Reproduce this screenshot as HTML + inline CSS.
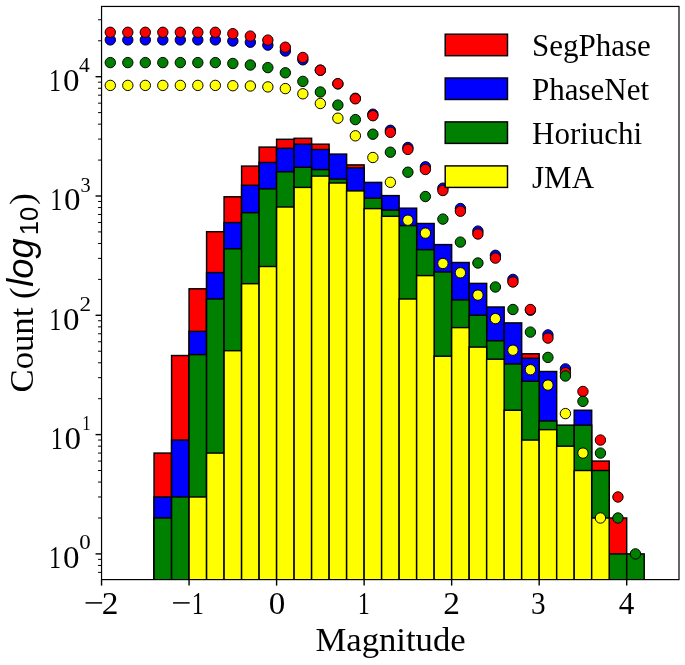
<!DOCTYPE html>
<html><head><meta charset="utf-8"><style>
html,body{margin:0;padding:0;background:#fff;}
svg{display:block;will-change:transform;}
text{font-family:"Liberation Serif",serif;fill:#000;}
.sans{font-family:"Liberation Sans",sans-serif;}
</style></head><body>
<svg width="685" height="665" viewBox="0 0 685 665">
<defs><clipPath id="ax"><rect x="101.55" y="6.45" width="577.45" height="573.15"/></clipPath></defs>
<rect x="0" y="0" width="685" height="665" fill="#fff"/>
<g clip-path="url(#ax)">
<rect x="154.06" y="453.08" width="17.50" height="131.52" fill="#ff0000" stroke="#000" stroke-width="1.45"/>
<rect x="171.57" y="355.53" width="17.50" height="229.07" fill="#ff0000" stroke="#000" stroke-width="1.45"/>
<rect x="189.07" y="288.80" width="17.50" height="295.80" fill="#ff0000" stroke="#000" stroke-width="1.45"/>
<rect x="206.58" y="231.70" width="17.50" height="352.90" fill="#ff0000" stroke="#000" stroke-width="1.45"/>
<rect x="224.08" y="196.80" width="17.51" height="387.80" fill="#ff0000" stroke="#000" stroke-width="1.45"/>
<rect x="241.59" y="166.10" width="17.50" height="418.50" fill="#ff0000" stroke="#000" stroke-width="1.45"/>
<rect x="259.10" y="147.10" width="17.50" height="437.50" fill="#ff0000" stroke="#000" stroke-width="1.45"/>
<rect x="276.60" y="139.30" width="17.50" height="445.30" fill="#ff0000" stroke="#000" stroke-width="1.45"/>
<rect x="294.11" y="138.30" width="17.50" height="446.30" fill="#ff0000" stroke="#000" stroke-width="1.45"/>
<rect x="311.61" y="144.20" width="17.50" height="440.40" fill="#ff0000" stroke="#000" stroke-width="1.45"/>
<rect x="346.62" y="164.90" width="17.51" height="419.70" fill="#ff0000" stroke="#000" stroke-width="1.45"/>
<rect x="521.67" y="353.80" width="17.50" height="230.80" fill="#ff0000" stroke="#000" stroke-width="1.45"/>
<rect x="591.69" y="461.07" width="17.51" height="123.53" fill="#ff0000" stroke="#000" stroke-width="1.45"/>
<rect x="609.20" y="517.99" width="17.50" height="66.61" fill="#ff0000" stroke="#000" stroke-width="1.45"/>
<rect x="154.06" y="496.98" width="17.50" height="87.62" fill="#0000ff" stroke="#000" stroke-width="1.45"/>
<rect x="171.57" y="440.06" width="17.50" height="144.54" fill="#0000ff" stroke="#000" stroke-width="1.45"/>
<rect x="189.07" y="331.40" width="17.50" height="253.20" fill="#0000ff" stroke="#000" stroke-width="1.45"/>
<rect x="206.58" y="272.60" width="17.50" height="312.00" fill="#0000ff" stroke="#000" stroke-width="1.45"/>
<rect x="224.08" y="222.60" width="17.51" height="362.00" fill="#0000ff" stroke="#000" stroke-width="1.45"/>
<rect x="241.59" y="185.30" width="17.50" height="399.30" fill="#0000ff" stroke="#000" stroke-width="1.45"/>
<rect x="259.10" y="162.50" width="17.50" height="422.10" fill="#0000ff" stroke="#000" stroke-width="1.45"/>
<rect x="276.60" y="148.30" width="17.50" height="436.30" fill="#0000ff" stroke="#000" stroke-width="1.45"/>
<rect x="294.11" y="144.20" width="17.50" height="440.40" fill="#0000ff" stroke="#000" stroke-width="1.45"/>
<rect x="311.61" y="149.50" width="17.50" height="435.10" fill="#0000ff" stroke="#000" stroke-width="1.45"/>
<rect x="329.12" y="154.10" width="17.50" height="430.50" fill="#0000ff" stroke="#000" stroke-width="1.45"/>
<rect x="346.62" y="167.90" width="17.51" height="416.70" fill="#0000ff" stroke="#000" stroke-width="1.45"/>
<rect x="364.13" y="182.40" width="17.50" height="402.20" fill="#0000ff" stroke="#000" stroke-width="1.45"/>
<rect x="381.63" y="195.60" width="17.50" height="389.00" fill="#0000ff" stroke="#000" stroke-width="1.45"/>
<rect x="399.14" y="208.20" width="17.50" height="376.40" fill="#0000ff" stroke="#000" stroke-width="1.45"/>
<rect x="416.64" y="223.50" width="17.50" height="361.10" fill="#0000ff" stroke="#000" stroke-width="1.45"/>
<rect x="434.15" y="244.60" width="17.50" height="340.00" fill="#0000ff" stroke="#000" stroke-width="1.45"/>
<rect x="451.65" y="262.50" width="17.50" height="322.10" fill="#0000ff" stroke="#000" stroke-width="1.45"/>
<rect x="469.16" y="283.40" width="17.51" height="301.20" fill="#0000ff" stroke="#000" stroke-width="1.45"/>
<rect x="486.66" y="307.00" width="17.50" height="277.60" fill="#0000ff" stroke="#000" stroke-width="1.45"/>
<rect x="504.17" y="322.90" width="17.51" height="261.70" fill="#0000ff" stroke="#000" stroke-width="1.45"/>
<rect x="521.67" y="358.30" width="17.50" height="226.30" fill="#0000ff" stroke="#000" stroke-width="1.45"/>
<rect x="539.17" y="371.50" width="17.51" height="213.10" fill="#0000ff" stroke="#000" stroke-width="1.45"/>
<rect x="574.19" y="410.25" width="17.50" height="174.35" fill="#0000ff" stroke="#000" stroke-width="1.45"/>
<rect x="154.06" y="517.99" width="17.50" height="66.61" fill="#008000" stroke="#000" stroke-width="1.45"/>
<rect x="171.57" y="496.98" width="17.50" height="87.62" fill="#008000" stroke="#000" stroke-width="1.45"/>
<rect x="189.07" y="354.60" width="17.50" height="230.00" fill="#008000" stroke="#000" stroke-width="1.45"/>
<rect x="206.58" y="299.00" width="17.50" height="285.60" fill="#008000" stroke="#000" stroke-width="1.45"/>
<rect x="224.08" y="248.80" width="17.51" height="335.80" fill="#008000" stroke="#000" stroke-width="1.45"/>
<rect x="241.59" y="212.70" width="17.50" height="371.90" fill="#008000" stroke="#000" stroke-width="1.45"/>
<rect x="259.10" y="188.90" width="17.50" height="395.70" fill="#008000" stroke="#000" stroke-width="1.45"/>
<rect x="276.60" y="171.80" width="17.50" height="412.80" fill="#008000" stroke="#000" stroke-width="1.45"/>
<rect x="294.11" y="167.30" width="17.50" height="417.30" fill="#008000" stroke="#000" stroke-width="1.45"/>
<rect x="311.61" y="169.60" width="17.50" height="415.00" fill="#008000" stroke="#000" stroke-width="1.45"/>
<rect x="329.12" y="179.10" width="17.50" height="405.50" fill="#008000" stroke="#000" stroke-width="1.45"/>
<rect x="364.13" y="198.20" width="17.50" height="386.40" fill="#008000" stroke="#000" stroke-width="1.45"/>
<rect x="381.63" y="210.10" width="17.50" height="374.50" fill="#008000" stroke="#000" stroke-width="1.45"/>
<rect x="399.14" y="225.60" width="17.50" height="359.00" fill="#008000" stroke="#000" stroke-width="1.45"/>
<rect x="416.64" y="249.70" width="17.50" height="334.90" fill="#008000" stroke="#000" stroke-width="1.45"/>
<rect x="434.15" y="272.00" width="17.50" height="312.60" fill="#008000" stroke="#000" stroke-width="1.45"/>
<rect x="451.65" y="299.90" width="17.50" height="284.70" fill="#008000" stroke="#000" stroke-width="1.45"/>
<rect x="469.16" y="315.20" width="17.51" height="269.40" fill="#008000" stroke="#000" stroke-width="1.45"/>
<rect x="486.66" y="340.80" width="17.50" height="243.80" fill="#008000" stroke="#000" stroke-width="1.45"/>
<rect x="504.17" y="364.00" width="17.51" height="220.60" fill="#008000" stroke="#000" stroke-width="1.45"/>
<rect x="521.67" y="381.25" width="17.50" height="203.35" fill="#008000" stroke="#000" stroke-width="1.45"/>
<rect x="539.17" y="421.01" width="17.51" height="163.59" fill="#008000" stroke="#000" stroke-width="1.45"/>
<rect x="556.68" y="425.15" width="17.50" height="159.45" fill="#008000" stroke="#000" stroke-width="1.45"/>
<rect x="574.19" y="425.15" width="17.50" height="159.45" fill="#008000" stroke="#000" stroke-width="1.45"/>
<rect x="591.69" y="470.51" width="17.51" height="114.09" fill="#008000" stroke="#000" stroke-width="1.45"/>
<rect x="609.20" y="553.90" width="17.50" height="30.70" fill="#008000" stroke="#000" stroke-width="1.45"/>
<rect x="626.70" y="553.90" width="17.50" height="30.70" fill="#008000" stroke="#000" stroke-width="1.45"/>
<rect x="189.07" y="496.98" width="17.50" height="87.62" fill="#ffff00" stroke="#000" stroke-width="1.45"/>
<rect x="206.58" y="453.08" width="17.50" height="131.52" fill="#ffff00" stroke="#000" stroke-width="1.45"/>
<rect x="224.08" y="350.70" width="17.51" height="233.90" fill="#ffff00" stroke="#000" stroke-width="1.45"/>
<rect x="241.59" y="283.70" width="17.50" height="300.90" fill="#ffff00" stroke="#000" stroke-width="1.45"/>
<rect x="259.10" y="266.50" width="17.50" height="318.10" fill="#ffff00" stroke="#000" stroke-width="1.45"/>
<rect x="276.60" y="207.00" width="17.50" height="377.60" fill="#ffff00" stroke="#000" stroke-width="1.45"/>
<rect x="294.11" y="187.40" width="17.50" height="397.20" fill="#ffff00" stroke="#000" stroke-width="1.45"/>
<rect x="311.61" y="176.10" width="17.50" height="408.50" fill="#ffff00" stroke="#000" stroke-width="1.45"/>
<rect x="329.12" y="183.00" width="17.50" height="401.60" fill="#ffff00" stroke="#000" stroke-width="1.45"/>
<rect x="346.62" y="190.90" width="17.51" height="393.70" fill="#ffff00" stroke="#000" stroke-width="1.45"/>
<rect x="364.13" y="208.60" width="17.50" height="376.00" fill="#ffff00" stroke="#000" stroke-width="1.45"/>
<rect x="381.63" y="216.30" width="17.50" height="368.30" fill="#ffff00" stroke="#000" stroke-width="1.45"/>
<rect x="399.14" y="299.00" width="17.50" height="285.60" fill="#ffff00" stroke="#000" stroke-width="1.45"/>
<rect x="416.64" y="275.60" width="17.50" height="309.00" fill="#ffff00" stroke="#000" stroke-width="1.45"/>
<rect x="434.15" y="356.20" width="17.50" height="228.40" fill="#ffff00" stroke="#000" stroke-width="1.45"/>
<rect x="451.65" y="327.60" width="17.50" height="257.00" fill="#ffff00" stroke="#000" stroke-width="1.45"/>
<rect x="469.16" y="347.10" width="17.51" height="237.50" fill="#ffff00" stroke="#000" stroke-width="1.45"/>
<rect x="486.66" y="359.20" width="17.50" height="225.40" fill="#ffff00" stroke="#000" stroke-width="1.45"/>
<rect x="504.17" y="410.25" width="17.51" height="174.35" fill="#ffff00" stroke="#000" stroke-width="1.45"/>
<rect x="521.67" y="440.06" width="17.50" height="144.54" fill="#ffff00" stroke="#000" stroke-width="1.45"/>
<rect x="539.17" y="429.66" width="17.51" height="154.94" fill="#ffff00" stroke="#000" stroke-width="1.45"/>
<rect x="556.68" y="446.16" width="17.50" height="138.44" fill="#ffff00" stroke="#000" stroke-width="1.45"/>
<rect x="574.19" y="470.51" width="17.50" height="114.09" fill="#ffff00" stroke="#000" stroke-width="1.45"/>
<rect x="591.69" y="517.99" width="17.51" height="66.61" fill="#ffff00" stroke="#000" stroke-width="1.45"/>
<circle cx="110.30" cy="85.40" r="5.2" fill="#ffff00" stroke="#000" stroke-width="1"/>
<circle cx="127.81" cy="85.40" r="5.2" fill="#ffff00" stroke="#000" stroke-width="1"/>
<circle cx="145.31" cy="85.40" r="5.2" fill="#ffff00" stroke="#000" stroke-width="1"/>
<circle cx="162.82" cy="85.40" r="5.2" fill="#ffff00" stroke="#000" stroke-width="1"/>
<circle cx="180.32" cy="85.40" r="5.2" fill="#ffff00" stroke="#000" stroke-width="1"/>
<circle cx="197.83" cy="85.40" r="5.2" fill="#ffff00" stroke="#000" stroke-width="1"/>
<circle cx="215.33" cy="85.40" r="5.2" fill="#ffff00" stroke="#000" stroke-width="1"/>
<circle cx="232.84" cy="85.70" r="5.2" fill="#ffff00" stroke="#000" stroke-width="1"/>
<circle cx="250.34" cy="86.00" r="5.2" fill="#ffff00" stroke="#000" stroke-width="1"/>
<circle cx="267.85" cy="86.90" r="5.2" fill="#ffff00" stroke="#000" stroke-width="1"/>
<circle cx="285.35" cy="88.60" r="5.2" fill="#ffff00" stroke="#000" stroke-width="1"/>
<circle cx="302.86" cy="93.80" r="5.2" fill="#ffff00" stroke="#000" stroke-width="1"/>
<circle cx="320.36" cy="103.50" r="5.2" fill="#ffff00" stroke="#000" stroke-width="1"/>
<circle cx="337.87" cy="118.20" r="5.2" fill="#ffff00" stroke="#000" stroke-width="1"/>
<circle cx="355.37" cy="135.80" r="5.2" fill="#ffff00" stroke="#000" stroke-width="1"/>
<circle cx="372.88" cy="157.50" r="5.2" fill="#ffff00" stroke="#000" stroke-width="1"/>
<circle cx="390.38" cy="182.30" r="5.2" fill="#ffff00" stroke="#000" stroke-width="1"/>
<circle cx="407.89" cy="220.20" r="5.2" fill="#ffff00" stroke="#000" stroke-width="1"/>
<circle cx="425.39" cy="233.10" r="5.2" fill="#ffff00" stroke="#000" stroke-width="1"/>
<circle cx="442.90" cy="263.50" r="5.2" fill="#ffff00" stroke="#000" stroke-width="1"/>
<circle cx="460.40" cy="272.80" r="5.2" fill="#ffff00" stroke="#000" stroke-width="1"/>
<circle cx="477.91" cy="295.10" r="5.2" fill="#ffff00" stroke="#000" stroke-width="1"/>
<circle cx="495.41" cy="318.60" r="5.2" fill="#ffff00" stroke="#000" stroke-width="1"/>
<circle cx="512.92" cy="350.20" r="5.2" fill="#ffff00" stroke="#000" stroke-width="1"/>
<circle cx="530.42" cy="369.70" r="5.2" fill="#ffff00" stroke="#000" stroke-width="1"/>
<circle cx="547.93" cy="385.09" r="5.2" fill="#ffff00" stroke="#000" stroke-width="1"/>
<circle cx="565.43" cy="413.59" r="5.2" fill="#ffff00" stroke="#000" stroke-width="1"/>
<circle cx="582.94" cy="453.08" r="5.2" fill="#ffff00" stroke="#000" stroke-width="1"/>
<circle cx="600.44" cy="517.99" r="5.2" fill="#ffff00" stroke="#000" stroke-width="1"/>
<circle cx="110.30" cy="39.90" r="5.2" fill="#0000ff" stroke="#000" stroke-width="1"/>
<circle cx="127.81" cy="39.90" r="5.2" fill="#0000ff" stroke="#000" stroke-width="1"/>
<circle cx="145.31" cy="39.90" r="5.2" fill="#0000ff" stroke="#000" stroke-width="1"/>
<circle cx="162.82" cy="39.90" r="5.2" fill="#0000ff" stroke="#000" stroke-width="1"/>
<circle cx="180.32" cy="39.90" r="5.2" fill="#0000ff" stroke="#000" stroke-width="1"/>
<circle cx="197.83" cy="39.90" r="5.2" fill="#0000ff" stroke="#000" stroke-width="1"/>
<circle cx="215.33" cy="39.90" r="5.2" fill="#0000ff" stroke="#000" stroke-width="1"/>
<circle cx="232.84" cy="41.00" r="5.2" fill="#0000ff" stroke="#000" stroke-width="1"/>
<circle cx="250.34" cy="42.20" r="5.2" fill="#0000ff" stroke="#000" stroke-width="1"/>
<circle cx="267.85" cy="45.10" r="5.2" fill="#0000ff" stroke="#000" stroke-width="1"/>
<circle cx="285.35" cy="51.00" r="5.2" fill="#0000ff" stroke="#000" stroke-width="1"/>
<circle cx="302.86" cy="59.80" r="5.2" fill="#0000ff" stroke="#000" stroke-width="1"/>
<circle cx="320.36" cy="70.20" r="5.2" fill="#0000ff" stroke="#000" stroke-width="1"/>
<circle cx="337.87" cy="83.90" r="5.2" fill="#0000ff" stroke="#000" stroke-width="1"/>
<circle cx="355.37" cy="98.30" r="5.2" fill="#0000ff" stroke="#000" stroke-width="1"/>
<circle cx="372.88" cy="114.20" r="5.2" fill="#0000ff" stroke="#000" stroke-width="1"/>
<circle cx="390.38" cy="130.30" r="5.2" fill="#0000ff" stroke="#000" stroke-width="1"/>
<circle cx="407.89" cy="147.50" r="5.2" fill="#0000ff" stroke="#000" stroke-width="1"/>
<circle cx="425.39" cy="166.80" r="5.2" fill="#0000ff" stroke="#000" stroke-width="1"/>
<circle cx="442.90" cy="188.20" r="5.2" fill="#0000ff" stroke="#000" stroke-width="1"/>
<circle cx="460.40" cy="208.50" r="5.2" fill="#0000ff" stroke="#000" stroke-width="1"/>
<circle cx="477.91" cy="231.10" r="5.2" fill="#0000ff" stroke="#000" stroke-width="1"/>
<circle cx="495.41" cy="255.30" r="5.2" fill="#0000ff" stroke="#000" stroke-width="1"/>
<circle cx="512.92" cy="279.40" r="5.2" fill="#0000ff" stroke="#000" stroke-width="1"/>
<circle cx="530.42" cy="310.20" r="5.2" fill="#0000ff" stroke="#000" stroke-width="1"/>
<circle cx="547.93" cy="334.90" r="5.2" fill="#0000ff" stroke="#000" stroke-width="1"/>
<circle cx="565.43" cy="368.90" r="5.2" fill="#0000ff" stroke="#000" stroke-width="1"/>
<circle cx="110.30" cy="32.30" r="5.2" fill="#ff0000" stroke="#000" stroke-width="1"/>
<circle cx="127.81" cy="32.30" r="5.2" fill="#ff0000" stroke="#000" stroke-width="1"/>
<circle cx="145.31" cy="32.30" r="5.2" fill="#ff0000" stroke="#000" stroke-width="1"/>
<circle cx="162.82" cy="32.30" r="5.2" fill="#ff0000" stroke="#000" stroke-width="1"/>
<circle cx="180.32" cy="32.30" r="5.2" fill="#ff0000" stroke="#000" stroke-width="1"/>
<circle cx="197.83" cy="32.30" r="5.2" fill="#ff0000" stroke="#000" stroke-width="1"/>
<circle cx="215.33" cy="32.30" r="5.2" fill="#ff0000" stroke="#000" stroke-width="1"/>
<circle cx="232.84" cy="33.70" r="5.2" fill="#ff0000" stroke="#000" stroke-width="1"/>
<circle cx="250.34" cy="36.10" r="5.2" fill="#ff0000" stroke="#000" stroke-width="1"/>
<circle cx="267.85" cy="40.10" r="5.2" fill="#ff0000" stroke="#000" stroke-width="1"/>
<circle cx="285.35" cy="47.20" r="5.2" fill="#ff0000" stroke="#000" stroke-width="1"/>
<circle cx="302.86" cy="57.50" r="5.2" fill="#ff0000" stroke="#000" stroke-width="1"/>
<circle cx="320.36" cy="70.20" r="5.2" fill="#ff0000" stroke="#000" stroke-width="1"/>
<circle cx="337.87" cy="83.70" r="5.2" fill="#ff0000" stroke="#000" stroke-width="1"/>
<circle cx="355.37" cy="98.80" r="5.2" fill="#ff0000" stroke="#000" stroke-width="1"/>
<circle cx="372.88" cy="115.70" r="5.2" fill="#ff0000" stroke="#000" stroke-width="1"/>
<circle cx="390.38" cy="132.30" r="5.2" fill="#ff0000" stroke="#000" stroke-width="1"/>
<circle cx="407.89" cy="149.40" r="5.2" fill="#ff0000" stroke="#000" stroke-width="1"/>
<circle cx="425.39" cy="169.50" r="5.2" fill="#ff0000" stroke="#000" stroke-width="1"/>
<circle cx="442.90" cy="190.50" r="5.2" fill="#ff0000" stroke="#000" stroke-width="1"/>
<circle cx="460.40" cy="211.20" r="5.2" fill="#ff0000" stroke="#000" stroke-width="1"/>
<circle cx="477.91" cy="234.00" r="5.2" fill="#ff0000" stroke="#000" stroke-width="1"/>
<circle cx="495.41" cy="258.10" r="5.2" fill="#ff0000" stroke="#000" stroke-width="1"/>
<circle cx="512.92" cy="282.00" r="5.2" fill="#ff0000" stroke="#000" stroke-width="1"/>
<circle cx="530.42" cy="309.50" r="5.2" fill="#ff0000" stroke="#000" stroke-width="1"/>
<circle cx="547.93" cy="338.10" r="5.2" fill="#ff0000" stroke="#000" stroke-width="1"/>
<circle cx="565.43" cy="372.70" r="5.2" fill="#ff0000" stroke="#000" stroke-width="1"/>
<circle cx="582.94" cy="391.45" r="5.2" fill="#ff0000" stroke="#000" stroke-width="1"/>
<circle cx="600.44" cy="440.06" r="5.2" fill="#ff0000" stroke="#000" stroke-width="1"/>
<circle cx="617.95" cy="496.98" r="5.2" fill="#ff0000" stroke="#000" stroke-width="1"/>
<circle cx="110.30" cy="62.60" r="5.2" fill="#008000" stroke="#000" stroke-width="1"/>
<circle cx="127.81" cy="62.60" r="5.2" fill="#008000" stroke="#000" stroke-width="1"/>
<circle cx="145.31" cy="62.60" r="5.2" fill="#008000" stroke="#000" stroke-width="1"/>
<circle cx="162.82" cy="62.60" r="5.2" fill="#008000" stroke="#000" stroke-width="1"/>
<circle cx="180.32" cy="62.60" r="5.2" fill="#008000" stroke="#000" stroke-width="1"/>
<circle cx="197.83" cy="62.60" r="5.2" fill="#008000" stroke="#000" stroke-width="1"/>
<circle cx="215.33" cy="62.60" r="5.2" fill="#008000" stroke="#000" stroke-width="1"/>
<circle cx="232.84" cy="63.50" r="5.2" fill="#008000" stroke="#000" stroke-width="1"/>
<circle cx="250.34" cy="65.00" r="5.2" fill="#008000" stroke="#000" stroke-width="1"/>
<circle cx="267.85" cy="67.60" r="5.2" fill="#008000" stroke="#000" stroke-width="1"/>
<circle cx="285.35" cy="72.80" r="5.2" fill="#008000" stroke="#000" stroke-width="1"/>
<circle cx="302.86" cy="81.40" r="5.2" fill="#008000" stroke="#000" stroke-width="1"/>
<circle cx="320.36" cy="92.00" r="5.2" fill="#008000" stroke="#000" stroke-width="1"/>
<circle cx="337.87" cy="105.10" r="5.2" fill="#008000" stroke="#000" stroke-width="1"/>
<circle cx="355.37" cy="119.60" r="5.2" fill="#008000" stroke="#000" stroke-width="1"/>
<circle cx="372.88" cy="134.20" r="5.2" fill="#008000" stroke="#000" stroke-width="1"/>
<circle cx="390.38" cy="152.20" r="5.2" fill="#008000" stroke="#000" stroke-width="1"/>
<circle cx="407.89" cy="172.20" r="5.2" fill="#008000" stroke="#000" stroke-width="1"/>
<circle cx="425.39" cy="196.50" r="5.2" fill="#008000" stroke="#000" stroke-width="1"/>
<circle cx="442.90" cy="219.10" r="5.2" fill="#008000" stroke="#000" stroke-width="1"/>
<circle cx="460.40" cy="242.10" r="5.2" fill="#008000" stroke="#000" stroke-width="1"/>
<circle cx="477.91" cy="263.00" r="5.2" fill="#008000" stroke="#000" stroke-width="1"/>
<circle cx="495.41" cy="287.00" r="5.2" fill="#008000" stroke="#000" stroke-width="1"/>
<circle cx="512.92" cy="309.50" r="5.2" fill="#008000" stroke="#000" stroke-width="1"/>
<circle cx="530.42" cy="332.10" r="5.2" fill="#008000" stroke="#000" stroke-width="1"/>
<circle cx="547.93" cy="357.40" r="5.2" fill="#008000" stroke="#000" stroke-width="1"/>
<circle cx="565.43" cy="375.98" r="5.2" fill="#008000" stroke="#000" stroke-width="1"/>
<circle cx="582.94" cy="401.34" r="5.2" fill="#008000" stroke="#000" stroke-width="1"/>
<circle cx="600.44" cy="453.08" r="5.2" fill="#008000" stroke="#000" stroke-width="1"/>
<circle cx="617.95" cy="517.99" r="5.2" fill="#008000" stroke="#000" stroke-width="1"/>
<circle cx="635.45" cy="553.90" r="5.2" fill="#008000" stroke="#000" stroke-width="1"/>
</g>
<rect x="445.2" y="34.20" width="62.3" height="21.5" fill="#ff0000" stroke="#000" stroke-width="1.45"/>
<rect x="445.2" y="78.00" width="62.3" height="21.5" fill="#0000ff" stroke="#000" stroke-width="1.45"/>
<rect x="445.2" y="121.90" width="62.3" height="21.5" fill="#008000" stroke="#000" stroke-width="1.45"/>
<rect x="445.2" y="165.90" width="62.3" height="21.5" fill="#ffff00" stroke="#000" stroke-width="1.45"/>
<text x="532.0" y="56.20" font-size="31">SegPhase</text>
<text x="532.0" y="100.00" font-size="31">PhaseNet</text>
<text x="532.0" y="143.90" font-size="31">Horiuchi</text>
<text x="532.0" y="187.90" font-size="31">JMA</text>
<rect x="101.55" y="6.45" width="577.45" height="573.15" fill="none" stroke="#000" stroke-width="1.2"/>
<line x1="101.55" y1="579.60" x2="101.55" y2="585.60" stroke="#000" stroke-width="1.4"/>
<line x1="189.07" y1="579.60" x2="189.07" y2="585.60" stroke="#000" stroke-width="1.4"/>
<line x1="276.60" y1="579.60" x2="276.60" y2="585.60" stroke="#000" stroke-width="1.4"/>
<line x1="364.13" y1="579.60" x2="364.13" y2="585.60" stroke="#000" stroke-width="1.4"/>
<line x1="451.65" y1="579.60" x2="451.65" y2="585.60" stroke="#000" stroke-width="1.4"/>
<line x1="539.17" y1="579.60" x2="539.17" y2="585.60" stroke="#000" stroke-width="1.4"/>
<line x1="626.70" y1="579.60" x2="626.70" y2="585.60" stroke="#000" stroke-width="1.4"/>
<line x1="95.55" y1="553.90" x2="101.55" y2="553.90" stroke="#000" stroke-width="1.4"/>
<line x1="95.55" y1="434.60" x2="101.55" y2="434.60" stroke="#000" stroke-width="1.4"/>
<line x1="95.55" y1="315.30" x2="101.55" y2="315.30" stroke="#000" stroke-width="1.4"/>
<line x1="95.55" y1="196.00" x2="101.55" y2="196.00" stroke="#000" stroke-width="1.4"/>
<line x1="95.55" y1="76.70" x2="101.55" y2="76.70" stroke="#000" stroke-width="1.4"/>
<line x1="98.05" y1="572.38" x2="101.55" y2="572.38" stroke="#000" stroke-width="1.0"/>
<line x1="98.05" y1="565.46" x2="101.55" y2="565.46" stroke="#000" stroke-width="1.0"/>
<line x1="98.05" y1="559.36" x2="101.55" y2="559.36" stroke="#000" stroke-width="1.0"/>
<line x1="98.05" y1="517.99" x2="101.55" y2="517.99" stroke="#000" stroke-width="1.0"/>
<line x1="98.05" y1="496.98" x2="101.55" y2="496.98" stroke="#000" stroke-width="1.0"/>
<line x1="98.05" y1="482.07" x2="101.55" y2="482.07" stroke="#000" stroke-width="1.0"/>
<line x1="98.05" y1="470.51" x2="101.55" y2="470.51" stroke="#000" stroke-width="1.0"/>
<line x1="98.05" y1="461.07" x2="101.55" y2="461.07" stroke="#000" stroke-width="1.0"/>
<line x1="98.05" y1="453.08" x2="101.55" y2="453.08" stroke="#000" stroke-width="1.0"/>
<line x1="98.05" y1="446.16" x2="101.55" y2="446.16" stroke="#000" stroke-width="1.0"/>
<line x1="98.05" y1="440.06" x2="101.55" y2="440.06" stroke="#000" stroke-width="1.0"/>
<line x1="98.05" y1="398.69" x2="101.55" y2="398.69" stroke="#000" stroke-width="1.0"/>
<line x1="98.05" y1="377.68" x2="101.55" y2="377.68" stroke="#000" stroke-width="1.0"/>
<line x1="98.05" y1="362.77" x2="101.55" y2="362.77" stroke="#000" stroke-width="1.0"/>
<line x1="98.05" y1="351.21" x2="101.55" y2="351.21" stroke="#000" stroke-width="1.0"/>
<line x1="98.05" y1="341.77" x2="101.55" y2="341.77" stroke="#000" stroke-width="1.0"/>
<line x1="98.05" y1="333.78" x2="101.55" y2="333.78" stroke="#000" stroke-width="1.0"/>
<line x1="98.05" y1="326.86" x2="101.55" y2="326.86" stroke="#000" stroke-width="1.0"/>
<line x1="98.05" y1="320.76" x2="101.55" y2="320.76" stroke="#000" stroke-width="1.0"/>
<line x1="98.05" y1="279.39" x2="101.55" y2="279.39" stroke="#000" stroke-width="1.0"/>
<line x1="98.05" y1="258.38" x2="101.55" y2="258.38" stroke="#000" stroke-width="1.0"/>
<line x1="98.05" y1="243.47" x2="101.55" y2="243.47" stroke="#000" stroke-width="1.0"/>
<line x1="98.05" y1="231.91" x2="101.55" y2="231.91" stroke="#000" stroke-width="1.0"/>
<line x1="98.05" y1="222.47" x2="101.55" y2="222.47" stroke="#000" stroke-width="1.0"/>
<line x1="98.05" y1="214.48" x2="101.55" y2="214.48" stroke="#000" stroke-width="1.0"/>
<line x1="98.05" y1="207.56" x2="101.55" y2="207.56" stroke="#000" stroke-width="1.0"/>
<line x1="98.05" y1="201.46" x2="101.55" y2="201.46" stroke="#000" stroke-width="1.0"/>
<line x1="98.05" y1="160.09" x2="101.55" y2="160.09" stroke="#000" stroke-width="1.0"/>
<line x1="98.05" y1="139.08" x2="101.55" y2="139.08" stroke="#000" stroke-width="1.0"/>
<line x1="98.05" y1="124.17" x2="101.55" y2="124.17" stroke="#000" stroke-width="1.0"/>
<line x1="98.05" y1="112.61" x2="101.55" y2="112.61" stroke="#000" stroke-width="1.0"/>
<line x1="98.05" y1="103.17" x2="101.55" y2="103.17" stroke="#000" stroke-width="1.0"/>
<line x1="98.05" y1="95.18" x2="101.55" y2="95.18" stroke="#000" stroke-width="1.0"/>
<line x1="98.05" y1="88.26" x2="101.55" y2="88.26" stroke="#000" stroke-width="1.0"/>
<line x1="98.05" y1="82.16" x2="101.55" y2="82.16" stroke="#000" stroke-width="1.0"/>
<line x1="98.05" y1="40.79" x2="101.55" y2="40.79" stroke="#000" stroke-width="1.0"/>
<line x1="98.05" y1="19.78" x2="101.55" y2="19.78" stroke="#000" stroke-width="1.0"/>
<rect x="85.55" y="602.15" width="16.6" height="1.5" fill="#000"/>
<text transform="translate(109.85,613.80) scale(1.05,1)" x="-7.77" y="0" font-size="31.8">2</text>
<rect x="173.07" y="602.15" width="16.6" height="1.5" fill="#000"/>
<text transform="translate(198.00,613.80) scale(0.76,1)" x="-8.39" y="0" font-size="31.8">1</text>
<text transform="translate(276.90,613.80) scale(1.04,1)" x="-7.95" y="0" font-size="31.8">0</text>
<text transform="translate(364.00,613.80) scale(0.76,1)" x="-8.39" y="0" font-size="31.8">1</text>
<text transform="translate(451.40,613.80) scale(1.05,1)" x="-7.77" y="0" font-size="31.8">2</text>
<text transform="translate(538.40,613.80) scale(0.92,1)" x="-8.09" y="0" font-size="31.8">3</text>
<text transform="translate(626.70,613.80) scale(0.98,1)" x="-8.01" y="0" font-size="31.8">4</text>
<text transform="translate(55.40,568.20) scale(0.76,1)" x="-8.39" y="0" font-size="31.8">1</text>
<text transform="translate(71.15,568.20) scale(1.04,1)" x="-7.95" y="0" font-size="31.8">0</text>
<text transform="translate(84.95,549.40) scale(1.04,1)" x="-5.50" y="0" font-size="22.0">0</text>
<text transform="translate(57.10,448.90) scale(0.76,1)" x="-8.39" y="0" font-size="31.8">1</text>
<text transform="translate(72.85,448.90) scale(1.04,1)" x="-7.95" y="0" font-size="31.8">0</text>
<text transform="translate(86.70,430.10) scale(0.76,1)" x="-5.81" y="0" font-size="22.0">1</text>
<text transform="translate(55.50,329.60) scale(0.76,1)" x="-8.39" y="0" font-size="31.8">1</text>
<text transform="translate(71.25,329.60) scale(1.04,1)" x="-7.95" y="0" font-size="31.8">0</text>
<text transform="translate(85.15,310.80) scale(1.05,1)" x="-5.38" y="0" font-size="22.0">2</text>
<text transform="translate(56.60,210.30) scale(0.76,1)" x="-8.39" y="0" font-size="31.8">1</text>
<text transform="translate(72.35,210.30) scale(1.04,1)" x="-7.95" y="0" font-size="31.8">0</text>
<text transform="translate(85.55,191.50) scale(0.92,1)" x="-5.60" y="0" font-size="22.0">3</text>
<text transform="translate(55.40,91.00) scale(0.76,1)" x="-8.39" y="0" font-size="31.8">1</text>
<text transform="translate(71.15,91.00) scale(1.04,1)" x="-7.95" y="0" font-size="31.8">0</text>
<text transform="translate(84.50,72.20) scale(0.98,1)" x="-5.54" y="0" font-size="22.0">4</text>
<text x="315.43" y="651.3" font-size="34.7">Magnitude</text>
<g transform="translate(32.7,391.1) rotate(-90)"><text x="-1.42" y="0" font-size="34.7">Count (</text><text class="sans" font-style="italic" x="104.32" y="0" font-size="36.2">log</text><text class="sans" x="155.96" y="5.6" font-size="25.5">10</text><text x="186.48" y="0" font-size="34.7">)</text></g>
</svg>
</body></html>
